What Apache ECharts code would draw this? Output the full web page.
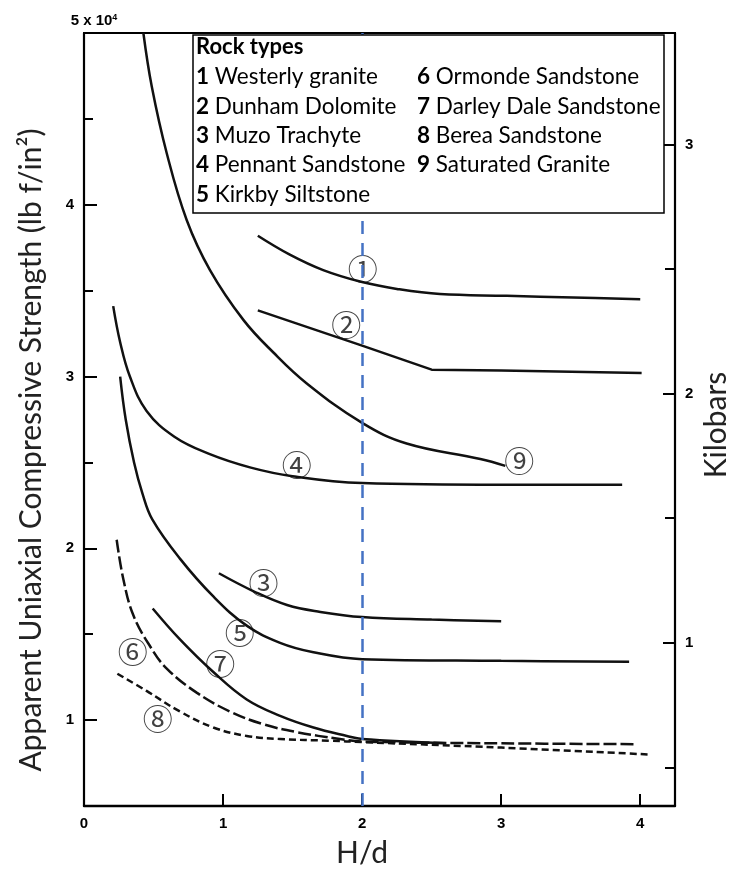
<!DOCTYPE html>
<html>
<head>
<meta charset="utf-8">
<script src="https://cdn.jsdelivr.net/npm/echarts@6/dist/echarts.min.js"></script>
<style>
  html, body { margin: 0; padding: 0; background: #fff; }
  #chart { width: 729px; height: 869px; }
</style>
</head>
<body>
<div id="chart"></div>
<script>
// H/d vs apparent strength (x 10^4 lb f/in^2)
var westerlyGranite = [[1.25, 3.82], [1.48, 3.71], [1.72, 3.62], [2.0, 3.55], [2.25, 3.51], [2.56, 3.48], [3.04, 3.47], [3.52, 3.46], [4.0, 3.45]]
var dunhamDolomite = [[1.25, 3.385], [2.0, 3.18], [2.5, 3.04], [3.0, 3.035], [4.01, 3.02]]
var muzoTrachyte = [[0.97, 1.855], [1.22, 1.75], [1.46, 1.67], [1.7, 1.63], [2.0, 1.6], [2.5, 1.585], [3.0, 1.575]]
var pennantSandstone = [[0.21, 3.41], [0.26, 3.2], [0.33, 3.0], [0.45, 2.8], [0.65, 2.65], [0.9, 2.55], [1.2, 2.47], [1.5, 2.42], [2.0, 2.38], [3.0, 2.37], [3.87, 2.37]]
var kirkbySiltstone = [[0.26, 3.0], [0.3, 2.75], [0.36, 2.5], [0.42, 2.32], [0.49, 2.17], [0.69, 1.94], [0.93, 1.72], [1.17, 1.55], [1.41, 1.45], [1.65, 1.395], [2.0, 1.355], [3.0, 1.345], [3.92, 1.34]]
var ormondeSandstone = [[0.235, 2.05], [0.283, 1.82], [0.355, 1.61], [0.475, 1.43], [0.595, 1.3], [0.81, 1.16], [1.05, 1.05], [1.29, 0.976], [1.53, 0.93], [1.84, 0.89], [2.0, 0.875], [3.0, 0.865], [3.96, 0.86]]
var darleyDale = [[0.494, 1.65], [0.69, 1.47], [0.93, 1.28], [1.17, 1.12], [1.41, 1.025], [1.65, 0.957], [1.89, 0.908], [2.0, 0.89], [2.6, 0.865]]
var bereaSandstone = [[0.24, 1.27], [0.45, 1.17], [0.69, 1.05], [0.93, 0.957], [1.17, 0.908], [1.41, 0.89], [1.77, 0.88], [2.0, 0.872], [3.0, 0.84], [4.06, 0.8]]
var saturatedGranite = [[0.427, 5.0], [0.487, 4.69], [0.595, 4.3], [0.739, 3.91], [0.906, 3.62], [1.146, 3.33], [1.362, 3.14], [1.602, 2.96], [2.0, 2.73], [2.32, 2.61], [2.85, 2.52], [3.03, 2.48]]

// circled curve numbers [H/d, strength, text]
var curveTags = [[2.005, 3.63, '①'], [1.885, 3.3, '②'], [1.29, 1.8, '③'], [1.53, 2.49, '④'], [1.12, 1.51, '⑤'], [0.35, 1.4, '⑥'], [0.98, 1.33, '⑦'], [0.53, 1.01, '⑧'], [3.13, 2.51, '⑨']]

var xTicks = [1, 2, 3, 4]
var xLabels = [0, 1, 2, 3, 4]
var psiMajor = [1, 2, 3, 4]
var psiMinor = [1.5, 2.5, 3.5, 4.5]
var kbarMajor = [1, 2, 3]
var kbarMinor = [0.5, 1.5, 2.5]
var refLine = 2

var psiPerKbar = 1.4504
var psiMin = 0.5
var psiMax = 5

var legendLeft = [['1', 'Westerly granite'], ['2', 'Dunham Dolomite'], ['3', 'Muzo Trachyte'], ['4', 'Pennant Sandstone'], ['5', 'Kirkby Siltstone']]
var legendRight = [['6', 'Ormonde Sandstone'], ['7', 'Darley Dale Sandstone'], ['8', 'Berea Sandstone'], ['9', 'Saturated Granite']]

var chart = echarts.init(document.getElementById('chart'))

function curve(name, data, type, smooth) {
  return {
    name: name,
    type: 'line',
    data: data,
    smooth: smooth,
    symbol: 'none',
    lineStyle: { color: '#111', width: 2.5, type: type },
    z: 3
  }
}

var tickFont = { color: '#000', fontWeight: 'bold', fontSize: 15, fontFamily: 'Liberation Sans' }

function yAx(pos, min, max, ticks, len, labels) {
  return {
    type: 'value',
    position: pos,
    min: min,
    max: max,
    axisLine: { show: labels, lineStyle: { color: '#000', width: 2.2 } },
    axisTick: { show: true, inside: true, length: len, customValues: ticks, lineStyle: { color: '#000', width: 2 } },
    axisLabel: labels ? Object.assign({ show: true, customValues: ticks, margin: 10 }, tickFont) : { show: false },
    splitLine: { show: false }
  }
}

function centered(txt, x, y, font, rot) {
  return {
    type: 'text', z: 5, x: x, y: y, rotation: rot || 0,
    style: { text: txt, font: font, fill: '#222', align: 'center', verticalAlign: 'middle', textAlign: 'center', textVerticalAlign: 'middle' }
  }
}

var graphics = [
  { type: 'rect', z: 100, shape: { x: 193, y: 35, width: 471, height: 178 }, style: { fill: '#fff', stroke: '#000', lineWidth: 1.5 } },
  { type: 'text', z: 101, x: 196, y: 47, style: { text: 'Rock types', font: 'bold 22px Lato', fill: '#000', verticalAlign: 'middle', textVerticalAlign: 'middle' } },
  { type: 'text', z: 5, x: 94, y: 21, style: { text: '5 x 10{s|4}', font: 'bold 15px "Liberation Sans"', fill: '#000', align: 'center', verticalAlign: 'middle', textAlign: 'center', textVerticalAlign: 'middle', rich: { s: { fontSize: 9, fontWeight: 'bold', fontFamily: 'Liberation Sans', verticalAlign: 'top', padding: [0, 0, 7, 0] } } } },
  centered('Apparent Uniaxial Compressive Strength (lb f/in²)', 31, 450, '30px Lato', Math.PI / 2),
  centered('Kilobars', 716, 425, '30px Lato', Math.PI / 2),
  centered('H/d', 362, 853, '30px Lato')
]

function legendRow(r, x, i) {
  return { type: 'text', z: 101, x: x, y: 77 + i * 29.4, style: { text: '{b|' + r[0] + '} ' + r[1], font: '22.5px Lato', fill: '#000', verticalAlign: 'middle', textVerticalAlign: 'middle', rich: { b: { fontWeight: 'bold', fontSize: 22.5, fontFamily: 'Lato' } } } }
}
legendLeft.forEach(function (r, i) { graphics.push(legendRow(r, 196, i)) })
legendRight.forEach(function (r, i) { graphics.push(legendRow(r, 417, i)) })

var option = {
  animation: false,
  backgroundColor: '#fff',
  grid: { left: 84, right: 54, top: 33, bottom: 63, show: true, borderColor: '#000', borderWidth: 2, backgroundColor: 'transparent' },
  xAxis: {
    type: 'value',
    min: 0,
    max: 4.25,
    axisLine: { lineStyle: { color: '#000', width: 2.4 } },
    axisTick: { inside: true, length: 12, customValues: xTicks, lineStyle: { color: '#000', width: 2 } },
    axisLabel: Object.assign({ customValues: xLabels, margin: 10 }, tickFont),
    splitLine: { show: false }
  },
  yAxis: [
    yAx('left', psiMin, psiMax, psiMajor, 13, true),
    yAx('right', psiMin / psiPerKbar, psiMax / psiPerKbar, kbarMajor, 12, true),
    yAx('left', psiMin, psiMax, psiMinor, 9, false),
    yAx('right', psiMin / psiPerKbar, psiMax / psiPerKbar, kbarMinor, 10, false)
  ],
  series: [
    curve('1', westerlyGranite, 'solid', 0.4),
    curve('2', dunhamDolomite, 'solid', false),
    curve('3', muzoTrachyte, 'solid', 0.4),
    curve('4', pennantSandstone, 'solid', 0.4),
    curve('5', kirkbySiltstone, 'solid', 0.4),
    curve('6', ormondeSandstone, [13, 4], 0.4),
    curve('7', darleyDale, 'solid', 0.4),
    curve('8', bereaSandstone, [7, 4], 0.4),
    curve('9', saturatedGranite, 'solid', 0.4),
    {
      type: 'scatter',
      data: curveTags,
      symbolSize: 0,
      z: 4,
      label: {
        show: true,
        position: 'inside',
        formatter: function (p) { return p.value[2] },
        fontSize: 30,
        color: '#111',
        fontFamily: 'Noto Sans CJK SC'
      },
      markLine: {
        silent: true,
        symbol: 'none',
        label: { show: false },
        lineStyle: { color: '#4472C4', width: 2.5, type: [13, 9] },
        data: [{ xAxis: refLine }]
      }
    }
  ],
  graphic: graphics
}

chart.setOption(option)
</script>
</body>
</html>
